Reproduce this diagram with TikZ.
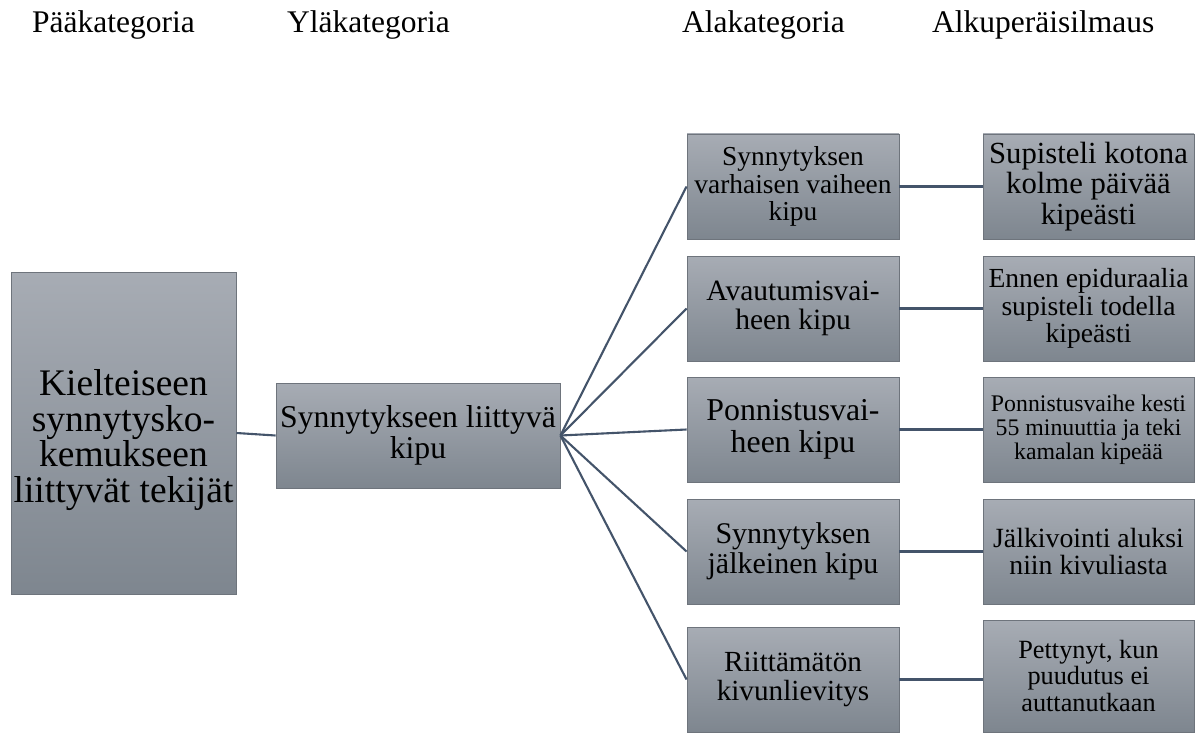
\documentclass[tikz,border=0pt]{standalone}
\usepackage{fontspec}
\setmainfont{Liberation Serif}
\newcommand{\sizefont}[2][1]{\fontsize{#2}{#1\dimexpr#2pt\relax}\selectfont}
\definecolor{gtop}{HTML}{A7ACB4}
\definecolor{gbot}{HTML}{7E868F}
\definecolor{boxline}{HTML}{6E747C}
\definecolor{linkcol}{HTML}{44546A}
\tikzset{
  catbox/.style={draw=boxline, line width=0.9pt, top color=gtop, bottom color=gbot,
    inner sep=0pt, align=center, text=black},
  colhead/.style={anchor=base west, inner sep=0pt, font=\sizefont{31.5}},
  link/.style={draw=linkcol, line width=2.1pt}
}
\begin{document}
\begin{tikzpicture}[x=1pt, y=-1pt]
\useasboundingbox (0,0) rectangle (1195,733);
\fill[white] (0,0) rectangle (1195,733);

% column headings
\node[colhead] (h1) at (32,33) {Pääkategoria};
\node[colhead] (h2) at (287,33) {Yläkategoria};
\node[colhead] (h3) at (682,33) {Alakategoria};
\node[colhead] (h4) at (932,33) {Alkuperäisilmaus};

% main category: box, with its text set a little below centre
\node[catbox, minimum width=225pt, minimum height=322pt] (main) at (123.5,433) {};
\node[align=center, inner sep=0pt, font={\sizefont[0.95]{37.5}}] (maintext)
  at ([yshift=-7pt]main.center) {Kielteiseen\\synnytysko-\\kemukseen\\liittyvät tekijät};

% upper category
\node[catbox, minimum width=284pt, minimum height=105pt, font=\sizefont{31.7}] (upper) at (418,435.5)
  {Synnytykseen liittyvä\\kipu};

% sub categories
\tikzset{subbox/.style={catbox, minimum width=212pt, minimum height=105pt}}
\node[subbox, font=\sizefont{27.4}] (s1) at (793,186.5) {Synnytyksen\\varhaisen vaiheen\\kipu};
\node[subbox, font=\sizefont{29.5}] (s2) at (793,308.5) {Avautumisvai-\\heen kipu};
\node[subbox, font=\sizefont{31.8}] (s3) at (793,429.5) {Ponnistusvai-\\heen kipu};
\node[subbox, font=\sizefont{30}] (s4) at (793,551.5) {Synnytyksen\\jälkeinen kipu};
\node[subbox, font=\sizefont{29.2}] (s5) at (793,679.5) {Riittämätön\\kivunlievitys};

% original expressions
\tikzset{quotebox/.style={catbox, minimum width=211pt, minimum height=105pt}}
\node[quotebox, font=\sizefont{30.7}] (q1) at (1088.5,186.5) {Supisteli kotona\\kolme päivää\\kipeästi};
\node[quotebox, font=\sizefont{27.6}] (q2) at (1088.5,308.5) {Ennen epiduraalia\\supisteli todella\\kipeästi};
\node[quotebox, font=\sizefont{23.8}] (q3) at (1088.5,429.5) {Ponnistusvaihe kesti\\55 minuuttia ja teki\\kamalan kipeää};
\node[quotebox, font=\sizefont{27.8}] (q4) at (1088.5,551.5) {Jälkivointi aluksi\\niin kivuliasta};
\node[quotebox, minimum height=112pt, font=\sizefont{26.3}] (q5) at (1088.5,676) {Pettynyt, kun\\puudutus ei\\auttanutkaan};

% connectors
\draw[link] (main.east) -- (upper.west);
\foreach \s in {s1,s2,s3,s4,s5}
  \draw[link] (upper.east) -- (\s.west);
\foreach \s/\q in {s1/q1,s2/q2,s3/q3,s4/q4,s5/q5}
  \draw[link] (\s.east) -- (\s.east -| \q.west);
\end{tikzpicture}
\end{document}
